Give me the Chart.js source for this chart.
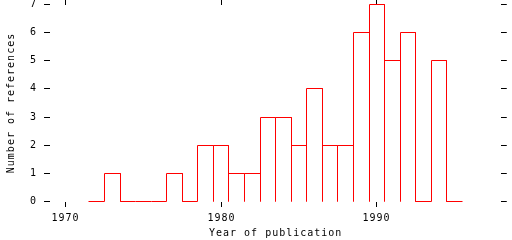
<!DOCTYPE html>
<html>
<head>
<meta charset="utf-8">
<script src="https://cdn.jsdelivr.net/npm/chart.js@4"></script>
<style>
  body { margin: 0; background: #fff; }
  canvas { display: block; }
</style>
</head>
<body>
<canvas id="histChart" width="512" height="240"></canvas>
<script>
// data
const years = [1972, 1973, 1974, 1975, 1976, 1977, 1978, 1979, 1980, 1981, 1982, 1983,
               1984, 1985, 1986, 1987, 1988, 1989, 1990, 1991, 1992, 1993, 1994, 1995];
const counts = [0, 1, 0, 0, 0, 1, 0, 2, 2, 1, 1, 3,
                3, 2, 4, 2, 2, 6, 7, 5, 6, 0, 5, 0];
const xTickValues = [1970, 1980, 1990];
const yTickValues = [0, 1, 2, 3, 4, 5, 6, 7];
const xRange = [1969, 1998];
const yRange = [0, 7];

// histogram outline: every bin is a closed box on the baseline
const outline = [];
years.forEach((year, i) => {
    outline.push({ x: year - 0.5, y: 0 });
    outline.push({ x: year - 0.5, y: counts[i] });
    outline.push({ x: year + 0.5, y: counts[i] });
    outline.push({ x: year + 0.5, y: 0 });
});

Chart.defaults.font.family = "'DejaVu Sans Mono', monospace";
Chart.defaults.font.size = 10;
Chart.defaults.color = '#000';

// spaced out letters, like the old bitmap font
const spacing = {
    id: 'spacing',
    beforeLayout(chart) { chart.ctx.letterSpacing = '1px'; },
    beforeDraw(chart) { chart.ctx.letterSpacing = '1px'; }
};

// put 1px lines on whole pixels so they stay sharp
function snap(scale) {
    if (scale._snapped) return;
    const base = scale.getPixelForValue.bind(scale);
    scale.getPixelForValue = v => Math.floor(base(v)) + 0.5;
    scale._snapped = true;
}

// fixed axis size, and no extra room for labels sticking out
function fitTo(prop, size) {
    return s => {
        s[prop] = size;
        s.paddingTop = 0;
        s.paddingBottom = 0;
        s.paddingLeft = 0;
        s.paddingRight = 0;
        snap(s);
    };
}

function tickGrid(len) {
    return {
        drawOnChartArea: false,
        drawTicks: true,
        tickLength: len,
        color: '#000',
        lineWidth: 1
    };
}

function setTicks(values) {
    return scale => { scale.ticks = values.map(v => ({ value: v })); };
}

new Chart(document.getElementById('histChart'), {
    type: 'line',
    data: {
        datasets: [{
            data: outline,
            borderColor: '#ff0000',
            borderWidth: 1,
            pointRadius: 0,
            tension: 0,
            fill: false,
            clip: false
        }]
    },
    options: {
        responsive: false,
        animation: false,
        events: [],
        layout: { padding: 0 },
        plugins: {
            legend: { display: false },
            tooltip: { enabled: false }
        },
        scales: {
            x: {
                type: 'linear',
                position: 'bottom',
                min: xRange[0],
                max: xRange[1],
                afterBuildTicks: setTicks(xTickValues),
                afterFit: fitTo('height', 38.5),
                grid: tickGrid(5.5),
                border: { display: false },
                ticks: { padding: 5, maxRotation: 0, autoSkip: false, callback: v => String(v) },
                title: { display: true, text: 'Year of publication', padding: { top: 0, bottom: 1 } }
            },
            xTop: {
                type: 'linear',
                position: 'top',
                min: xRange[0],
                max: xRange[1],
                afterBuildTicks: setTicks(xTickValues),
                afterFit: fitTo('height', 4.5),
                grid: tickGrid(5),
                border: { display: false },
                ticks: { display: false }
            },
            y: {
                type: 'linear',
                position: 'left',
                min: yRange[0],
                max: yRange[1],
                afterBuildTicks: setTicks(yTickValues),
                afterFit: fitTo('width', 50.04),
                grid: tickGrid(6),
                border: { display: false },
                ticks: { padding: 7, callback: v => String(v) },
                title: { display: true, text: 'Number of references', padding: { top: 5, bottom: 0 } }
            },
            yRight: {
                type: 'linear',
                position: 'right',
                min: yRange[0],
                max: yRange[1],
                afterBuildTicks: setTicks(yTickValues),
                afterFit: fitTo('width', 10.72),
                grid: tickGrid(5.5),
                border: { display: false },
                ticks: { display: false }
            }
        }
    },
    plugins: [spacing]
});
</script>
</body>
</html>
